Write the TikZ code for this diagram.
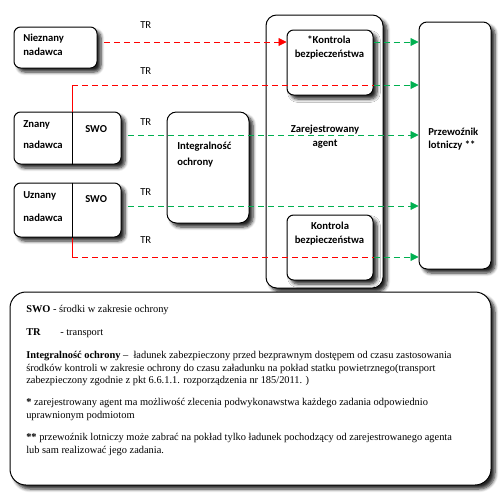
\documentclass[tikz,border=0pt]{standalone}
\usepackage{fontspec}
\setmainfont{Liberation Serif}
\newfontfamily\calfont{Carlito}
\usetikzlibrary{arrows.meta,fit,shadows.blur}
\definecolor{rdc}{RGB}{255,0,0}
\definecolor{gnc}{RGB}{0,176,80}
\tikzset{
  box/.style={draw=black, line width=0.75pt, fill=white, inner sep=0pt, rounded corners=#1,
    blur shadow={shadow xshift=3pt, shadow yshift=-3pt, shadow blur steps=6, shadow opacity=85, shadow blur radius=2.5pt}},
  box/.default=5pt,
  lbl/.style={inner sep=0pt, font=\calfont\bfseries\fontsize{8}{9.6}\selectfont},
  trl/.style={inner sep=0pt, font=\calfont\fontsize{8}{9.6}\selectfont},
  leg/.style={inner sep=0pt, anchor=base west, font=\fontsize{7.8}{9}\selectfont},
  rdl/.style={draw=rdc, line width=0.6pt, dash pattern=on 4.5pt off 3pt},
  gnl/.style={draw=gnc, line width=0.6pt, dash pattern=on 4.5pt off 3pt},
  tipr/.style={-{Triangle[length=6pt,width=6pt,fill=rdc]}},
  tipg/.style={-{Triangle[length=6pt,width=6pt,fill=gnc]}},
}
\begin{document}
\begin{tikzpicture}[x=0.75pt,y=-0.75pt]
\useasboundingbox (0,0) rectangle (502,496);
% boxes
\node[box=8pt, fit={(266,15) (383,288)}] (ag) {};
\node[box=5pt, fit={(287,30) (373,95)}] (k1) {};
\node[box=5pt, fit={(287,215) (373,280)}] (k2) {};
\node[box=6pt, fit={(419,22) (491,269)}] (pl) {};
\node[box=5pt, fit={(14,27) (97,68)}] (nie) {};
\node[box=5pt, fit={(14,112) (121,164)}] (zn) {};
\node[box=5pt, fit={(14,183) (121,237)}] (uz) {};
\node[box=7pt, fit={(167,112) (249,223)}] (io) {};
\node[box=12pt, fit={(10,292) (491,485)}] (lg) {};
% coordinates
\coordinate (a1) at (104,42);
\coordinate (a2) at (72,85);
\coordinate (a3) at (128,135);
\coordinate (a4) at (128,206);
\coordinate (a5) at (72,257);
% dividers
\draw[line width=0.75pt] (zn.north -| a2) -- (zn.south -| a2);
\draw[line width=0.75pt] (uz.north -| a2) -- (uz.south -| a2);
% box texts
\node[lbl, anchor=base west] (t1) at (23,41) {Nieznany};
\node[lbl, anchor=base west] (t2) at (23,55) {nadawca};
\node[lbl, anchor=base west] (t3) at (23,127) {Znany};
\node[lbl, anchor=base west] (t4) at (23,148) {nadawca};
\node[lbl, anchor=base west] (t5) at (85,132) {SWO};
\node[lbl, anchor=base west] (t6) at (23,198) {Uznany};
\node[lbl, anchor=base west] (t7) at (23,221) {nadawca};
\node[lbl, anchor=base west] (t8) at (85,202) {SWO};
\node[lbl, anchor=base west] (t9) at (177,149) {Integralność};
\node[lbl, anchor=base west] (t10) at (177,165) {ochrony};
\node[lbl, anchor=base] (t11) at (325,132) {Zarejestrowany};
\node[lbl, anchor=base] (t12) at (325,146) {agent};
\node[lbl, anchor=base] (t13) at (329,43) {*Kontrola};
\node[lbl, anchor=base] (t14) at (329.5,57) {bezpieczeństwa};
\node[lbl, anchor=base] (t15) at (330,229) {Kontrola};
\node[lbl, anchor=base] (t16) at (329.5,243) {bezpieczeństwa};
\node[lbl, anchor=base west] (t17) at (428,135) {Przewoźnik};
\node[lbl, anchor=base west] (t18) at (428,148) {lotniczy **};
% TR labels
\node[trl, anchor=base west] (r1) at (140,28) {TR};
\node[trl, anchor=base west] (r2) at (140,74) {TR};
\node[trl, anchor=base west] (r3) at (140,125) {TR};
\node[trl, anchor=base west] (r4) at (140,195) {TR};
\node[trl, anchor=base west] (r5) at (140,243) {TR};
% connectors
\draw[rdl, tipr] (a1) -- (k1.west |- a1);
\draw[gnl, tipg] (k1.east |- a1) -- (pl.west |- a1);
\draw[draw=rdc, line width=0.75pt] (zn.north -| a2) -- (a2);
\draw[rdl] (a2) -- (k1.east |- a2);
\draw[gnl, tipg] (k1.east |- a2) -- (pl.west |- a2);
\draw[gnl, tipg] (a3) -- (pl.west |- a3);
\draw[gnl, tipg] (a4) -- (pl.west |- a4);
\draw[draw=rdc, line width=0.75pt] (uz.south -| a5) -- (a5);
\draw[rdl] (a5) -- (k2.east |- a5);
\draw[gnl, tipg] (k2.east |- a5) -- (pl.west |- a5);
% legend
\node[leg] (l1) at (26,312) {\textbf{SWO} - środki w zakresie ochrony};
\node[leg] (l2) at (26,335) {\textbf{TR}};
\node[leg] (l2b) at (60,335) {- transport};
\node[leg] (l3) at (26,358) {\textbf{Integralność ochrony} –\ \ ładunek zabezpieczony przed bezprawnym dostępem od czasu zastosowania};
\node[leg] (l4) at (26,371) {środków kontroli w zakresie ochrony do czasu załadunku na pokład statku powietrznego(transport};
\node[leg] (l5) at (26,383) {zabezpieczony zgodnie z pkt 6.6.1.1. rozporządzenia nr 185/2011. )};
\node[leg] (l6) at (26,405) {\textbf{*} zarejestrowany agent ma możliwość zlecenia podwykonawstwa każdego zadania odpowiednio};
\node[leg] (l7) at (26,418) {uprawnionym podmiotom};
\node[leg] (l8) at (26,440) {\textbf{**} przewoźnik lotniczy może zabrać na pokład tylko ładunek pochodzący od zarejestrowanego agenta};
\node[leg] (l9) at (26,453) {lub sam realizować jego zadania.};
\end{tikzpicture}
\end{document}
